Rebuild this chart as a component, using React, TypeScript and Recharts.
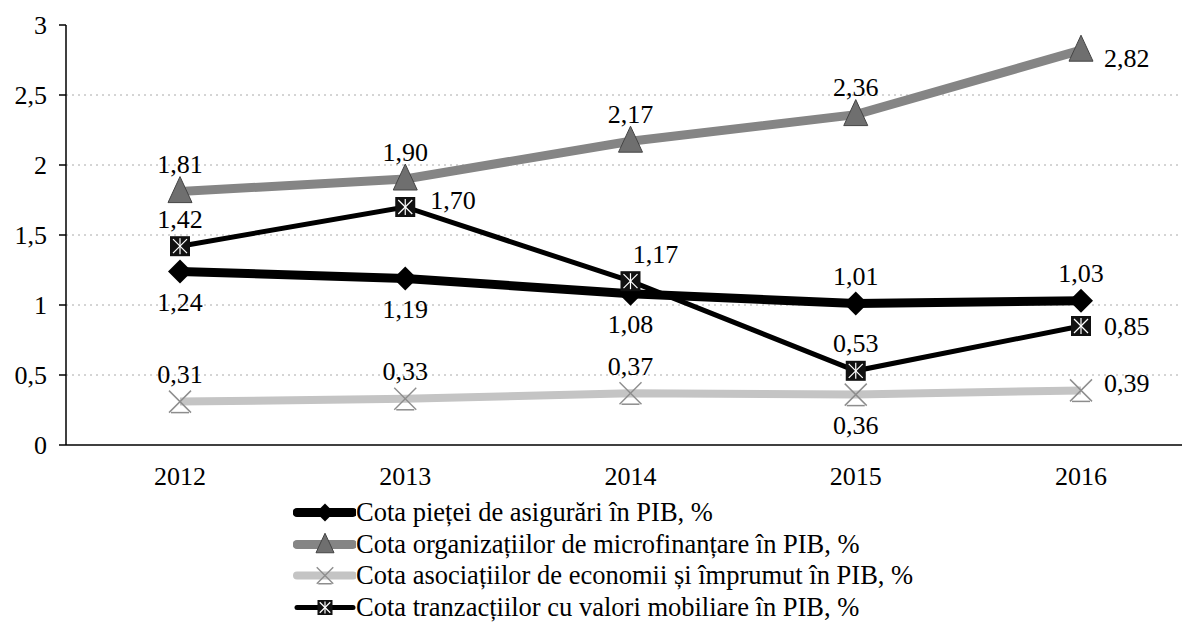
import { LineChart, Line, XAxis, YAxis, ReferenceLine, Legend } from 'recharts';

const years = ['2012', '2013', '2014', '2015', '2016'];
const asigurari = [1.24, 1.19, 1.08, 1.01, 1.03];
const microfinantare = [1.81, 1.9, 2.17, 2.36, 2.82];
const economii = [0.31, 0.33, 0.37, 0.36, 0.39];
const valori = [1.42, 1.7, 1.17, 0.53, 0.85];
const yTicks = [0, 0.5, 1, 1.5, 2, 2.5, 3];
const gridValues = [0.5, 1, 1.5, 2, 2.5];
const names = [
  'Cota pieței de asigurări în PIB, %',
  'Cota organizațiilor de microfinanțare în PIB, %',
  'Cota asociațiilor de economii și împrumut în PIB, %',
  'Cota tranzacțiilor cu valori mobiliare în PIB, %',
];

const data = years.map((year, i) => ({
  year,
  asigurari: asigurari[i],
  microfinantare: microfinantare[i],
  economii: economii[i],
  valori: valori[i],
}));

const FONT = '"Liberation Serif", "Times New Roman", "DejaVu Serif", serif';
const fmt = (v: number) => v.toFixed(2).replace('.', ',');

// marker shapes
const Diamond = ({ cx, cy, s = 1 }: any) => (
  <polygon points={`${cx},${cy - 12 * s} ${cx + 12 * s},${cy} ${cx},${cy + 12 * s} ${cx - 12 * s},${cy}`} fill="#000" />
);
const Triangle = ({ cx, cy, s = 1 }: any) => (
  <polygon
    points={`${cx},${cy - 15 * s} ${cx + 12 * s},${cy + 11 * s} ${cx - 12 * s},${cy + 11 * s}`}
    fill="#6f6f6f"
    stroke="#444"
    strokeWidth={1}
  />
);
const Cross = ({ cx, cy, s = 1 }: any) => (
  <g stroke="#8d8d8d" strokeWidth={1.5}>
    <line x1={cx - 11 * s} y1={cy - 11 * s} x2={cx + 11 * s} y2={cy + 11 * s} />
    <line x1={cx + 11 * s} y1={cy - 11 * s} x2={cx - 11 * s} y2={cy + 11 * s} />
    <line x1={cx - 9 * s} y1={cy + 11 * s} x2={cx + 9 * s} y2={cy + 11 * s} />
  </g>
);
const StarSquare = ({ cx, cy, s = 1 }: any) => (
  <g>
    <rect x={cx - 10 * s} y={cy - 10 * s} width={20 * s} height={20 * s} fill="#111" />
    <g stroke="#fff" strokeWidth={1.2}>
      <line x1={cx} y1={cy - 8 * s} x2={cx} y2={cy + 8 * s} />
      <line x1={cx - 7 * s} y1={cy - 7 * s} x2={cx + 7 * s} y2={cy + 7 * s} />
      <line x1={cx + 7 * s} y1={cy - 7 * s} x2={cx - 7 * s} y2={cy + 7 * s} />
    </g>
  </g>
);

type Place = 'above' | 'below' | 'right' | 'rightUp' | 'upRight';
const places: Record<string, Place[]> = {
  asigurari: ['below', 'below', 'below', 'above', 'above'],
  microfinantare: ['above', 'above', 'above', 'above', 'right'],
  economii: ['above', 'above', 'above', 'below', 'right'],
  valori: ['above', 'rightUp', 'upRight', 'above', 'right'],
};

const makeDot = (Shape: any) => (props: any) => <Shape key={`d${props.index}`} cx={props.cx} cy={props.cy} />;

const makeLabel = (key: string) => (props: any) => {
  const { x, y, value, index } = props;
  const p = places[key][index];
  let tx = x;
  let ty = y;
  let anchor: 'middle' | 'start' = 'middle';
  if (p === 'above') ty = y - 27;
  if (p === 'below') ty = y + 31;
  if (p === 'upRight') { tx = x + 25; ty = y - 27; }
  if (p === 'rightUp') { tx = x + 25; ty = y - 7; anchor = 'start'; }
  if (p === 'right') {
    tx = x + 23;
    anchor = 'start';
    ty = key === 'microfinantare' ? y + 8 : key === 'economii' ? y - 7 : y;
  }
  return (
    <text key={`l${index}`} x={tx} y={ty} textAnchor={anchor} dominantBaseline="central" fontSize={26} fontFamily={FONT} fill="#000">
      {fmt(value)}
    </text>
  );
};

const legendIcons = [
  { color: '#000', width: 9, Shape: Diamond },
  { color: '#858585', width: 9, Shape: Triangle },
  { color: '#c4c4c4', width: 8, Shape: Cross },
  { color: '#000', width: 5, Shape: StarSquare },
];

const LegendBox = () => (
  <div style={{ fontFamily: FONT, fontSize: 26.5, color: '#000' }}>
    {names.map((n, i) => {
      const ic = legendIcons[i];
      return (
        <div key={n} style={{ display: 'flex', alignItems: 'center', height: 31.5, whiteSpace: 'nowrap' }}>
          <svg width={63} height={31}>
            <line x1={4} y1={15.5} x2={60} y2={15.5} stroke={ic.color} strokeWidth={ic.width} strokeLinecap="round" />
            <ic.Shape cx={32} cy={15.5} s={0.75} />
          </svg>
          <span>{n}</span>
        </div>
      );
    })}
  </div>
);

export default function App() {
  return (
    <div style={{ position: 'absolute', left: 0, top: 0, width: 1182, height: 623, overflow: 'hidden', background: '#fff' }}>
      <LineChart width={1200} height={623} data={data} margin={{ top: 25, right: 7, bottom: 148, left: 0 }}>
        <XAxis
          xAxisId="edges"
          type="number"
          domain={[0, 5]}
          ticks={[0, 1, 2, 3, 4, 5]}
          height={0}
          tick={false}
          axisLine={false}
          tickSize={7}
          tickLine={{ stroke: '#000', strokeWidth: 1.5 }}
        />
        <XAxis
          dataKey="year"
          height={30}
          padding={{ left: 114, right: 112 }}
          tickLine={false}
          tickSize={0}
          tickMargin={22}
          axisLine={{ stroke: '#000', strokeWidth: 1.5 }}
          tick={{ fill: '#000', fontSize: 26, fontFamily: FONT }}
        />
        <YAxis
          width={66}
          domain={[0, 3]}
          ticks={yTicks}
          tickSize={7}
          tickMargin={12}
          tickFormatter={(v: number) => String(v).replace('.', ',')}
          axisLine={{ stroke: '#000', strokeWidth: 1.5 }}
          tickLine={{ stroke: '#000', strokeWidth: 1.5 }}
          tick={{ fill: '#000', fontSize: 26, fontFamily: FONT }}
        />
        {gridValues.map((v) => (
          <ReferenceLine key={v} y={v} stroke="#aaa" strokeDasharray="2 4" strokeWidth={1} />
        ))}
        <Line dataKey="asigurari" stroke="#000" strokeWidth={9} dot={makeDot(Diamond)} label={makeLabel('asigurari')} isAnimationActive={false} />
        <Line dataKey="microfinantare" stroke="#858585" strokeWidth={9} dot={makeDot(Triangle)} label={makeLabel('microfinantare')} isAnimationActive={false} />
        <Line dataKey="economii" stroke="#c4c4c4" strokeWidth={8} dot={makeDot(Cross)} label={makeLabel('economii')} isAnimationActive={false} />
        <Line dataKey="valori" stroke="#000" strokeWidth={5} dot={makeDot(StarSquare)} label={makeLabel('valori')} isAnimationActive={false} />
        <Legend
          layout="vertical"
          align="center"
          verticalAlign="middle"
          content={() => <LegendBox />}
          wrapperStyle={{ left: 293, top: 497, width: 'auto' }}
        />
      </LineChart>
    </div>
  );
}
